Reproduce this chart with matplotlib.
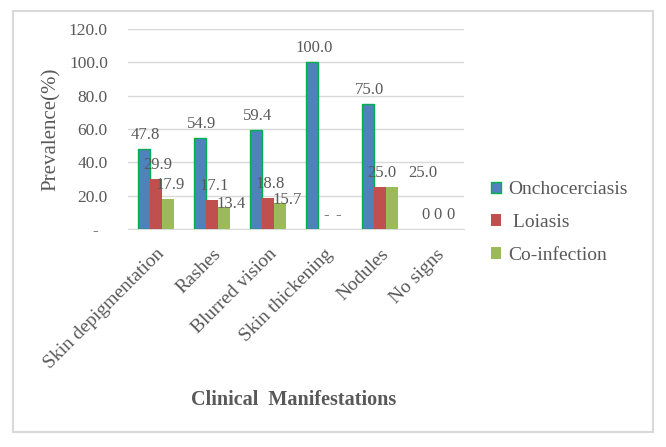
import numpy as np
import matplotlib.pyplot as plt
import matplotlib.transforms as mtransforms
from matplotlib.patches import Rectangle

categorias = ["Skin depigmentation", "Rashes", "Blurred vision",
              "Skin thickening", "Nodules", "No signs"]
series = ["Onchocerciasis", " Loiasis", "Co-infection"]
oncho = [47.8, 54.9, 59.4, 100.0, 75.0, 0]
loiasis = [29.9, 17.1, 18.8, 0, 25.0, 0]
coinf = [17.9, 13.4, 15.7, 0, 25.0, 0]
rotulos = [
    ["47.8", "54.9", "59.4", "100.0", "75.0", "0"],
    ["29.9", "17.1", "18.8", "-", "25.0", "0"],
    ["17.9", "13.4", "15.7", "-", "25.0", "0"],
]
yticks = [0, 20, 40, 60, 80, 100, 120]
ytick_labels = ["-  ", "20.0", "40.0", "60.0", "80.0", "100.0", "120.0"]

cores = ["#4F81BD", "#C0504D", "#9BBB59"]
cinza = "#595959"

# rótulos que o Excel deslocou (série, categoria) -> (dx, dy) em pixels
deslocados = {(2, 1): (7, -5), (2, 2): (7, -5), (2, 4): (30, 6)}

plt.rcParams['font.family'] = ['Liberation Serif', 'DejaVu Serif']

fig = plt.figure(figsize=(6.66, 4.47), dpi=100)
ax = fig.add_axes([128 / 666, 1 - 229 / 447, 336 / 666, 200 / 447])

# moldura cinza em volta do gráfico
fig.patches.append(Rectangle((13 / 666, 1 - 432 / 447), 640 / 666, 421 / 447,
                             transform=fig.transFigure, fill=False,
                             edgecolor="#D9D9D9", linewidth=1.5))

x = np.arange(len(categorias))
w = 0.22
valores = [oncho, loiasis, coinf]
for i, (vals, cor, nome) in enumerate(zip(valores, cores, series)):
    ec = "#00B050" if i == 0 else cor
    lw = [1.0 if (i == 0 and v > 0) else 0 for v in vals]
    bars = ax.bar(x + (i - 1) * w, vals, w, color=cor, edgecolor=ec,
                  linewidth=lw, label=nome, zorder=3)
    for j, (b, txt) in enumerate(zip(bars, rotulos[i])):
        dx, dy = deslocados.get((i, j), (2, 6))
        ax.annotate(txt, (b.get_x() + b.get_width() / 2, b.get_height()),
                    xytext=(dx, dy), textcoords="offset pixels",
                    ha="center", va="bottom", fontsize=12, color=cinza,
                    zorder=4)

ax.set_xlim(-0.5, len(categorias) - 0.5)
ax.set_ylim(0, 120)
ax.set_yticks(yticks)
ax.set_yticklabels(ytick_labels, fontsize=12.5, color=cinza)
ax.set_xticks(x)
ax.set_xticklabels(categorias, rotation=45, ha="right", va="top",
                   rotation_mode="anchor", fontsize=14, color=cinza)
desloc = mtransforms.ScaledTranslation(-5 / 100, 0, fig.dpi_scale_trans)
for lbl in ax.get_xticklabels():
    lbl.set_transform(lbl.get_transform() + desloc)
ax.tick_params(axis="both", length=0)
ax.tick_params(axis="y", pad=14.5)
ax.tick_params(axis="x", pad=12)
ax.yaxis.grid(True, color="#D9D9D9", linewidth=1, zorder=0)
for s in ["top", "right", "left"]:
    ax.spines[s].set_visible(False)
ax.spines["bottom"].set_color("#D9D9D9")
ax.set_axisbelow(True)

ax.set_ylabel("Prevalence(%)", fontsize=15, color=cinza, labelpad=6)
fig.text(294 / 666, 1 - 400 / 447, "Clinical  Manifestations", ha="center",
         va="center", fontsize=14.5, fontweight="bold", color=cinza)

leg = ax.legend(loc="upper left", bbox_to_anchor=(473 / 666, 1 - 164 / 447),
                bbox_transform=fig.transFigure, frameon=False, fontsize=14,
                handlelength=0.55, handleheight=0.55, handletextpad=0.35,
                labelspacing=0.8)
for t in leg.get_texts():
    t.set_color(cinza)

fig.savefig("out.png", dpi=100)
